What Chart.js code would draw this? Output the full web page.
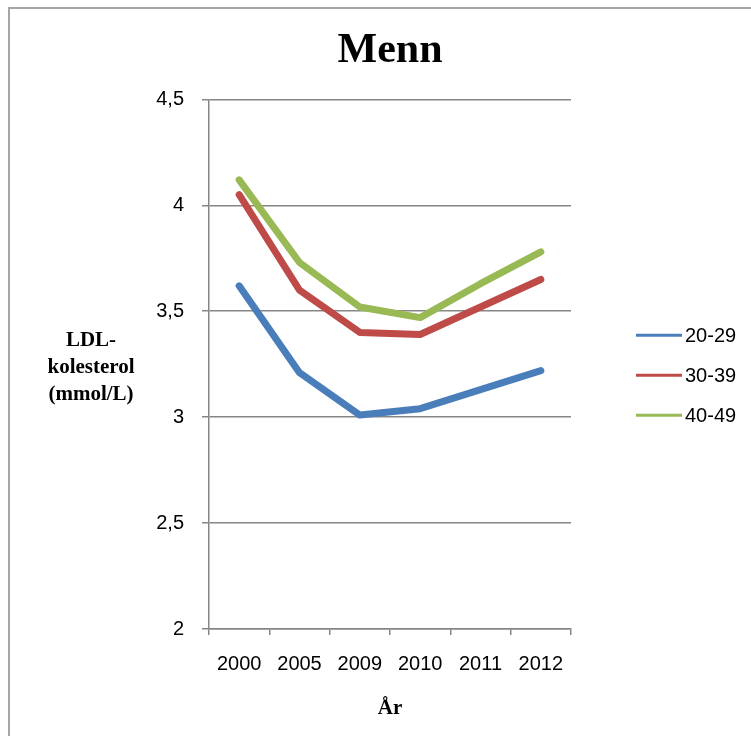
<!DOCTYPE html>
<html>
<head>
<meta charset="utf-8">
<script src="https://cdn.jsdelivr.net/npm/chart.js@4"></script>
<style>
  body { margin: 0; background: #fff; }
  canvas { display: block; }
</style>
</head>
<body>
<canvas id="chart-1" width="751" height="736"></canvas>
<script>
const years = ['2000', '2005', '2009', '2010', '2011', '2012'];
const ldl2029 = [3.62, 3.21, 3.01, 3.04, 3.13, 3.22];
const ldl3039 = [4.05, 3.60, 3.40, 3.39, 3.52, 3.65];
const ldl4049 = [4.12, 3.73, 3.52, 3.47, 3.63, 3.78];
const yTitleLines = ['LDL-', 'kolesterol', '(mmol/L)'];

const serif = '"Liberation Serif", "Times New Roman", serif';
const sans = '"Liberation Sans", Arial, sans-serif';

// frame, horizontal y-axis title and the legend on the right
const extras = {
  id: 'extras',
  beforeDraw(chart) {
    const c = chart.ctx;
    c.save();
    c.fillStyle = '#fff';
    c.fillRect(0, 0, chart.width, chart.height);
    c.strokeStyle = '#a6a6a6';
    c.lineWidth = 2;
    c.strokeRect(9, 8, chart.width + 20, chart.height + 20);
    c.restore();
  },
  afterDraw(chart) {
    const c = chart.ctx;
    const area = chart.chartArea;
    const mid = (area.top + area.bottom) / 2;
    c.save();
    c.fillStyle = '#000';
    c.font = 'bold 21px ' + serif;
    c.textAlign = 'center';
    c.textBaseline = 'middle';
    yTitleLines.forEach((t, i) => c.fillText(t, 91, mid - 24 + i * 27));

    c.font = '20px ' + sans;
    c.textAlign = 'left';
    chart.data.datasets.forEach((ds, i) => {
      const y = mid - 29 + i * 40;
      c.strokeStyle = ds.borderColor;
      c.lineWidth = 3;
      c.beginPath();
      c.moveTo(area.right + 65, y);
      c.lineTo(area.right + 111, y);
      c.stroke();
      c.fillStyle = '#000';
      c.fillText(ds.label, area.right + 114, y + 1);
    });
    c.restore();
  }
};

new Chart(document.getElementById('chart-1'), {
  type: 'line',
  data: {
    labels: years,
    datasets: [
      { label: '20-29', data: ldl2029, borderColor: '#4a7ebb' },
      { label: '30-39', data: ldl3039, borderColor: '#be4b48' },
      { label: '40-49', data: ldl4049, borderColor: '#98b954' }
    ]
  },
  options: {
    responsive: false,
    animation: false,
    layout: { padding: { top: 10, left: 0, right: 180, bottom: 0 } },
    elements: {
      line: { borderWidth: 7, tension: 0, borderCapStyle: 'round', borderJoinStyle: 'round', fill: false },
      point: { radius: 0, hoverRadius: 0 }
    },
    plugins: {
      legend: { display: false },
      tooltip: { enabled: false },
      title: {
        display: true,
        text: 'Menn',
        fullSize: false,
        color: '#000',
        font: { family: serif, size: 42, weight: 'bold' },
        padding: { top: 16, bottom: 23 }
      }
    },
    scales: {
      x: {
        offset: true,
        afterFit(scale) { scale.height = 107; },
        grid: { offset: true, drawOnChartArea: false, tickLength: 6, color: '#868686', lineWidth: 1.5 },
        border: { color: '#868686', width: 1.5 },
        ticks: { color: '#000', padding: 17, maxRotation: 0, font: { family: sans, size: 20 } },
        title: {
          display: true,
          text: 'År',
          color: '#000',
          font: { family: serif, size: 21, weight: 'bold' },
          padding: { top: 0, bottom: 15 }
        }
      },
      y: {
        min: 2,
        max: 4.5,
        afterFit(scale) { scale.width = 209; },
        grid: { tickLength: 7, color: '#868686', lineWidth: 1.5 },
        border: { color: '#868686', width: 1.5 },
        ticks: {
          stepSize: 0.5,
          color: '#000',
          padding: 18,
          font: { family: sans, size: 20 },
          callback: v => String(v).replace('.', ',')
        }
      }
    }
  },
  plugins: [extras]
});
</script>
</body>
</html>
